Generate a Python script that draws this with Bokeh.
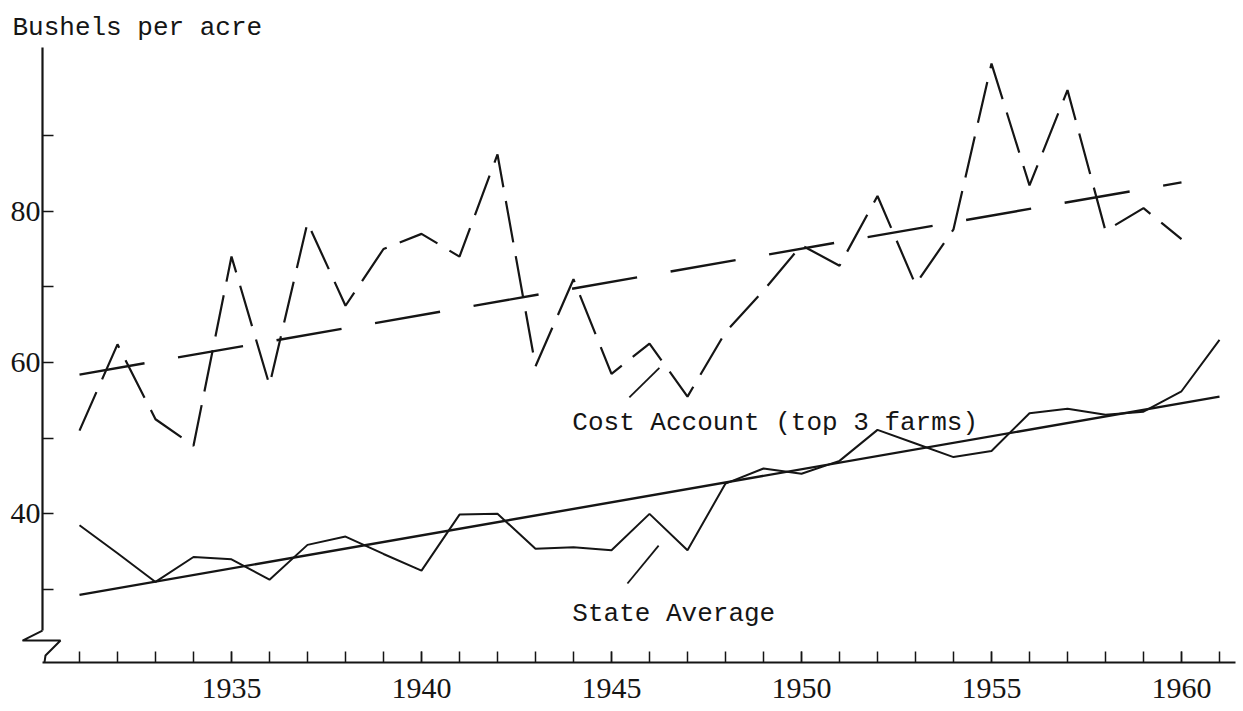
from bokeh.plotting import figure
from bokeh.models import Range1d, FixedTicker, Label
from bokeh.embed import file_html
from bokeh.resources import INLINE

# ---------------- data ----------------
state_years = list(range(1931, 1962))
state_avg = [38.5, 34.8, 31.0, 34.3, 34.0, 31.3, 35.9, 37.0, 34.7, 32.5,
             39.9, 40.0, 35.4, 35.6, 35.2, 40.0, 35.2, 44.0, 46.0, 45.3,
             47.0, 51.1, 49.3, 47.5, 48.3, 53.3, 53.9, 53.1, 53.5, 56.2,
             63.0]

cost_years = list(range(1931, 1961))
cost_account = [51.0, 62.4, 52.5, 49.0, 74.0, 57.0, 78.5, 67.5, 75.0, 77.0,
                74.0, 87.5, 59.5, 71.0, 58.5, 62.5, 55.5, 64.0, 69.5, 75.5,
                72.8, 82.0, 70.3, 77.6, 99.5, 83.4, 96.0, 77.4, 80.4, 76.3]

state_trend_years = [1931, 1961]
state_trend = [29.3, 55.5]
cost_trend_years = [1931, 1960]
cost_trend = [58.4, 83.8]

x_major_ticks = [1935, 1940, 1945, 1950, 1955, 1960]
x_minor_ticks = list(range(1931, 1962))
y_major_ticks = [40, 60, 80]
y_minor_ticks = [30, 50, 70, 90]

y_title = "Bushels per acre"
cost_label = "Cost Account (top 3 farms)"
state_label = "State Average"

# leader lines from the labels to the curves
cost_leader_x = [1945.47, 1946.26]
cost_leader_y = [55.4, 59.3]
state_leader_x = [1945.42, 1946.24]
state_leader_y = [30.8, 35.8]

INK = "#151515"
SERIF = "Liberation Serif"
MONO = "Liberation Mono"

p = figure(width=1243, height=711,
           x_range=Range1d(1930.0263, 1961.4211),
           y_range=Range1d(20.356, 101.63),
           output_backend="svg", toolbar_location=None,
           min_border_left=42, min_border_right=8,
           min_border_top=47, min_border_bottom=49)

p.background_fill_color = "white"
p.border_fill_color = "white"
p.outline_line_color = None
p.xgrid.visible = False
p.ygrid.visible = False

# title (y-axis caption at top-left)
p.title.text = y_title
p.title.text_font = MONO
p.title.text_font_size = "26px"
p.title.text_font_style = "normal"
p.title.text_color = INK
p.title.align = "left"
p.title.offset = -30
p.title.standoff = 10

# x axis
xa = p.xaxis[0]
xa.ticker = FixedTicker(ticks=x_major_ticks, minor_ticks=x_minor_ticks)
xa.axis_line_color = INK
xa.axis_line_width = 2
xa.major_tick_in = 11
xa.major_tick_out = 0
xa.minor_tick_in = 11
xa.minor_tick_out = 0
xa.major_tick_line_color = INK
xa.minor_tick_line_color = INK
xa.major_tick_line_width = 1.5
xa.minor_tick_line_width = 1.5
xa.major_label_text_font = SERIF
xa.major_label_text_font_size = "30px"
xa.major_label_text_color = INK
xa.major_label_standoff = 16

# y axis
ya = p.yaxis[0]
ya.bounds = (24.58, 101.63)
ya.ticker = FixedTicker(ticks=y_major_ticks, minor_ticks=y_minor_ticks)
ya.axis_line_color = INK
ya.axis_line_width = 2.2
ya.major_tick_in = 11
ya.major_tick_out = 0
ya.minor_tick_in = 11
ya.minor_tick_out = 0
ya.major_tick_line_color = INK
ya.minor_tick_line_color = INK
ya.major_tick_line_width = 1.5
ya.minor_tick_line_width = 1.5
ya.major_label_text_font = SERIF
ya.major_label_text_font_size = "30px"
ya.major_label_text_color = INK
ya.major_label_standoff = 2

# axis break symbol (y axis end -> zig-zag -> start of x axis)
brk_x = [1930.026, 1929.50, 1930.50, 1930.105, 1930.079]
brk_y = [24.58, 23.26, 23.26, 21.28, 20.36]
p.line(brk_x, brk_y, line_color=INK, line_width=2, level="overlay")

# series
p.line(cost_years, cost_account, line_color=INK, line_width=2.2, line_dash="42 14")
p.line(cost_trend_years, cost_trend, line_color=INK, line_width=2.4, line_dash="66 34")
p.line(state_years, state_avg, line_color=INK, line_width=2.0)
p.line(state_trend_years, state_trend, line_color=INK, line_width=2.4)

p.line(cost_leader_x, cost_leader_y, line_color=INK, line_width=1.8)
p.line(state_leader_x, state_leader_y, line_color=INK, line_width=1.8)

# texts
p.add_layout(Label(x=1943.97, y=52.07, text=cost_label, text_font=MONO,
                   text_font_size="26px", text_color=INK, text_baseline="alphabetic"))
p.add_layout(Label(x=1943.97, y=26.83, text=state_label, text_font=MONO,
                   text_font_size="26px", text_color=INK, text_baseline="alphabetic"))

open("out.html", "w").write(file_html(p, INLINE))
